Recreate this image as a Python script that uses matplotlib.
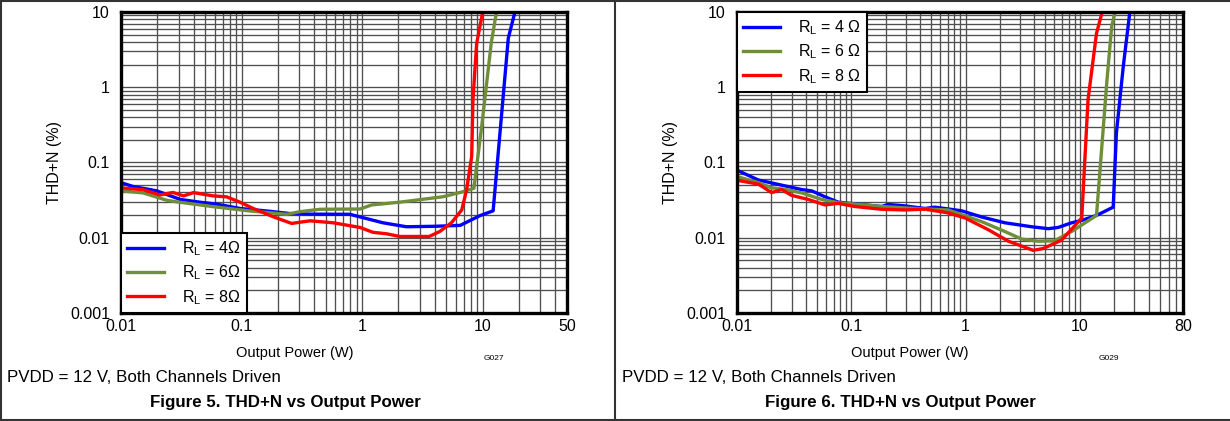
import matplotlib
matplotlib.use("Agg")
import matplotlib.pyplot as plt
from matplotlib.ticker import LogLocator, NullFormatter, FixedLocator, FixedFormatter

plt.rcParams["font.family"] = ["Liberation Sans", "DejaVu Sans"]
plt.rcParams["mathtext.fontset"] = "custom"
plt.rcParams["mathtext.rm"] = "Liberation Sans"

# Figure 5 data (left)
p4_a = [0.01, 0.0126, 0.0198, 0.031, 0.045, 0.062, 0.097, 0.161, 0.25, 0.37, 0.79, 1.49, 2.33, 4.0, 6.5, 9.5, 12.2, 16.3, 18.5]
thd4_a = [0.054, 0.048, 0.042, 0.0323, 0.0297, 0.028, 0.0245, 0.0227, 0.021, 0.0206, 0.0205, 0.0158, 0.014, 0.0142, 0.0146, 0.0197, 0.0228, 4.5, 10]
p6_a = [0.01, 0.0153, 0.0239, 0.029, 0.058, 0.117, 0.237, 0.305, 0.446, 0.96, 1.2, 2.05, 4.7, 6.9, 8.45, 9.8, 11.8, 13.0]
thd6_a = [0.042, 0.0394, 0.0315, 0.030, 0.0259, 0.0227, 0.0205, 0.0222, 0.0239, 0.0241, 0.0273, 0.0297, 0.0351, 0.041, 0.0455, 0.3, 4.0, 10]
p8_a = [0.01, 0.0153, 0.021, 0.027, 0.033, 0.04, 0.058, 0.075, 0.097, 0.125, 0.183, 0.26, 0.37, 0.576, 0.96, 1.23,
        1.59, 2.05, 3.6, 4.4, 5.5, 6.7, 7.35, 8.1, 8.3, 8.9, 10.0]
thd8_a = [0.046, 0.0435, 0.037, 0.040, 0.036, 0.0398, 0.036, 0.035, 0.0297, 0.0245, 0.019, 0.0155, 0.0168, 0.0158, 0.0137, 0.0118,
          0.0113, 0.0104, 0.0104, 0.0121, 0.0158, 0.0234, 0.0434, 0.12, 0.68, 3.8, 10]

# Figure 6 data (right)
p4_b = [0.01, 0.0154, 0.0246, 0.0368, 0.045, 0.0589, 0.077, 0.184, 0.211, 0.295, 0.44, 0.54, 0.925, 1.38, 2.21, 3.79,
        5.3, 6.46, 8.47, 10.4, 14.0, 19.6, 20.9, 24.0, 27.4]
thd4_b = [0.079, 0.0585, 0.050, 0.0437, 0.042, 0.035, 0.0297, 0.026, 0.0277, 0.0265, 0.0245, 0.0255, 0.0228, 0.0189, 0.0158, 0.014,
          0.0132, 0.0137, 0.0158, 0.017, 0.0198, 0.0255, 0.245, 1.88, 10]
p6_b = [0.01, 0.0154, 0.0201, 0.0263, 0.0368, 0.055, 0.077, 0.108, 0.184, 0.36, 0.706, 1.38, 2.21, 3.1, 4.33, 6.0,
        8.47, 14.0, 15.5, 17.2, 19.0, 20.3]
thd6_b = [0.065, 0.054, 0.046, 0.044, 0.0394, 0.0323, 0.0292, 0.028, 0.026, 0.0245, 0.0234, 0.0164, 0.0121, 0.0096, 0.009, 0.0091,
          0.0121, 0.0198, 0.146, 1.13, 6.4, 10]
p8_b = [0.01, 0.0154, 0.0201, 0.0246, 0.030, 0.042, 0.0589, 0.077, 0.108, 0.184, 0.295, 0.44, 0.706, 0.99, 1.58, 2.37,
        3.92, 4.79, 6.93, 10.4, 11.8, 14.0, 15.7]
thd8_b = [0.058, 0.0516, 0.0398, 0.0437, 0.0366, 0.0323, 0.0273, 0.0286, 0.026, 0.0239, 0.0234, 0.024, 0.0214, 0.0183, 0.0128, 0.009,
          0.0068, 0.0072, 0.0093, 0.0183, 0.68, 5.2, 10]

y_ticks = [0.001, 0.01, 0.1, 1, 10]
y_labels = ["0.001", "0.01", "0.1", "1", "10"]
x_ticks_a = [0.01, 0.1, 1, 10, 50]
x_labels_a = ["0.01", "0.1", "1", "10", "50"]
x_ticks_b = [0.01, 0.1, 1, 10, 80]
x_labels_b = ["0.01", "0.1", "1", "10", "80"]

labels_a = [r"R$_\mathregular{L}$ = 4Ω", r"R$_\mathregular{L}$ = 6Ω", r"R$_\mathregular{L}$ = 8Ω"]
labels_b = [r"R$_\mathregular{L}$ = 4 Ω", r"R$_\mathregular{L}$ = 6 Ω", r"R$_\mathregular{L}$ = 8 Ω"]
colors = ["#0000ff", "#6f8e3a", "#ff0000"]

W, H = 1230, 421
fig = plt.figure(figsize=(W / 100, H / 100), dpi=100)


def setup_axes(left_px, xmax, xticks, xlabels):
    ax = fig.add_axes([left_px / W, (H - 313) / H, 446 / W, 301 / H])
    ax.set_xscale("log")
    ax.set_yscale("log")
    ax.set_xlim(0.01, xmax)
    ax.set_ylim(0.001, 10)
    ax.xaxis.set_major_locator(FixedLocator(xticks))
    ax.xaxis.set_major_formatter(FixedFormatter(xlabels))
    ax.yaxis.set_major_locator(FixedLocator(y_ticks))
    ax.yaxis.set_major_formatter(FixedFormatter(y_labels))
    ax.xaxis.set_minor_locator(LogLocator(base=10, subs=range(1, 10), numticks=20))
    ax.yaxis.set_minor_locator(LogLocator(base=10, subs=range(1, 10), numticks=20))
    ax.xaxis.set_minor_formatter(NullFormatter())
    ax.yaxis.set_minor_formatter(NullFormatter())
    ax.tick_params(which="both", length=0, labelsize=11.5)
    ax.tick_params(axis="x", pad=4)
    ax.tick_params(axis="y", pad=8)
    ax.grid(True, which="both", color="#4f4f4f", linewidth=0.95)
    for s in ax.spines.values():
        s.set_linewidth(2.4)
        s.set_color("black")
        s.set_zorder(5)
    ax.set_ylabel("THD+N (%)", fontsize=11.5, labelpad=6)
    return ax


ax1 = setup_axes(121, 50, x_ticks_a, x_labels_a)
ax1.plot(p4_a, thd4_a, color=colors[0], lw=2.4, label=labels_a[0])
ax1.plot(p6_a, thd6_a, color=colors[1], lw=2.4, label=labels_a[1])
ax1.plot(p8_a, thd8_a, color=colors[2], lw=2.4, label=labels_a[2])
leg1 = ax1.legend(loc="lower left", borderaxespad=0, fancybox=False, edgecolor="black",
                  framealpha=1, fontsize=11.5, handlelength=2.3, labelspacing=0.35, handletextpad=1.1)
leg1.get_frame().set_linewidth(1.5)

ax2 = setup_axes(737, 80, x_ticks_b, x_labels_b)
ax2.plot(p4_b, thd4_b, color=colors[0], lw=2.4, label=labels_b[0])
ax2.plot(p6_b, thd6_b, color=colors[1], lw=2.4, label=labels_b[1])
ax2.plot(p8_b, thd8_b, color=colors[2], lw=2.4, label=labels_b[2])
leg2 = ax2.legend(loc="upper left", borderaxespad=0, fancybox=False, edgecolor="black",
                  framealpha=1, fontsize=11.5, handlelength=2.3, labelspacing=0.35, handletextpad=1.1)
leg2.get_frame().set_linewidth(1.5)


def ftext(x, y, s, **kw):
    fig.text(x / W, 1 - y / H, s, va="center", **kw)


for off, fignum, code in [(0, 5, "G027"), (615, 6, "G029")]:
    ftext(off + 295, 353, "Output Power (W)", ha="center", fontsize=10.5)
    ftext(off + 494, 358, code, ha="center", fontsize=6)
    ftext(off + 7, 378, "PVDD = 12 V, Both Channels Driven", ha="left", fontsize=12.2)
    ftext(off + 285, 402, f"Figure {fignum}. THD+N vs Output Power", ha="center",
          fontsize=12.2, fontweight="bold")

# panel borders
fig.add_artist(plt.Line2D([0, 1], [1 - 1 / H, 1 - 1 / H], transform=fig.transFigure, color="#333333", lw=1.5))
fig.add_artist(plt.Line2D([0, 1], [1 / H, 1 / H], transform=fig.transFigure, color="#333333", lw=1.5))
fig.add_artist(plt.Line2D([1 / W, 1 / W], [0, 1], transform=fig.transFigure, color="#333333", lw=1.5))
fig.add_artist(plt.Line2D([615 / W, 615 / W], [0, 1], transform=fig.transFigure, color="#333333", lw=1.5))

fig.savefig("out.png", dpi=100)
